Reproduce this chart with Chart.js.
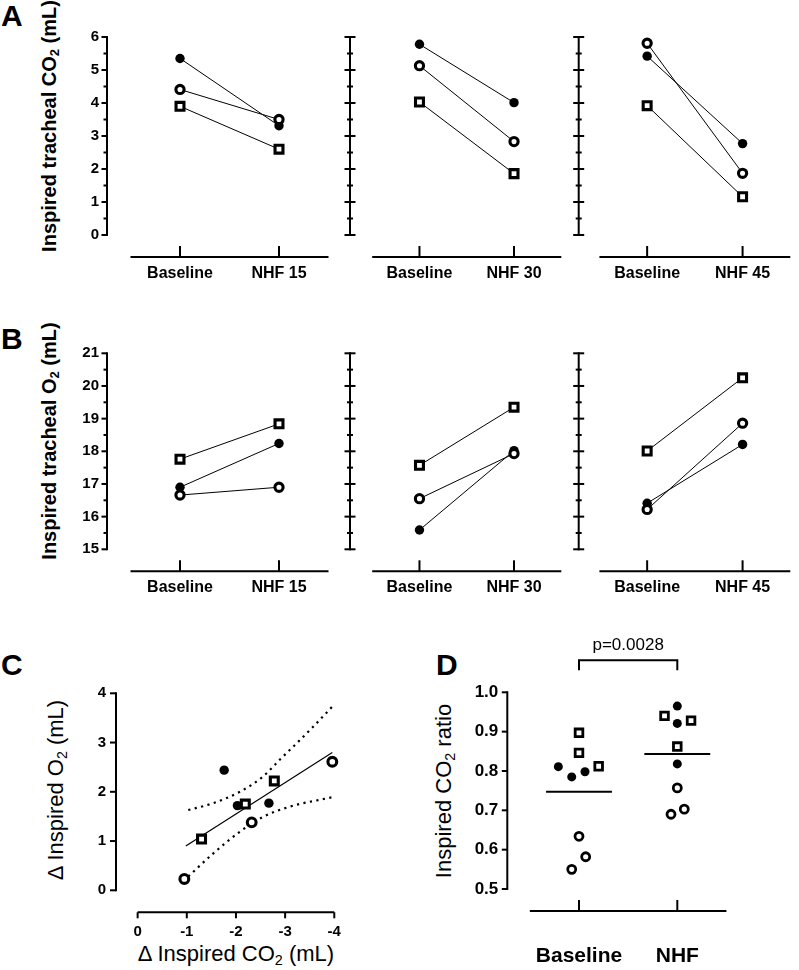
<!DOCTYPE html>
<html>
<head>
<meta charset="utf-8">
<script src="https://cdn.jsdelivr.net/npm/chart.js@4.4.1/dist/chart.umd.min.js"></script>
<style>
  html, body { margin: 0; padding: 0; background: #fff; }
  #wrap { position: relative; width: 799px; height: 970px; overflow: hidden; background: #fff;
          font-family: 'Liberation Sans', Arial, Helvetica, sans-serif; color: #000; }
  #wrap canvas { position: absolute; }
  .letter { position: absolute; font-weight: bold; font-size: 30px; line-height: 30px; }
  .vt { position: absolute; white-space: nowrap; transform: translate(-50%, -50%) rotate(-90deg); }
  .ht { position: absolute; white-space: nowrap; transform: translate(-50%, -50%); }
  sub { font-size: 65%; vertical-align: -0.25em; line-height: 0; }
</style>
</head>
<body>
<div id="wrap">
  <div class="letter" style="left:1px;top:1px;">A</div>
  <div class="letter" style="left:1px;top:324px;">B</div>
  <div class="letter" style="left:1px;top:650px;">C</div>
  <div class="letter" style="left:436px;top:650px;">D</div>
  <div class="vt" style="left:49px;top:126px;font-size:20px;font-weight:bold;">Inspired tracheal CO<sub>2</sub> (mL)</div>
  <div class="vt" style="left:49px;top:441px;font-size:20px;font-weight:bold;">Inspired tracheal O<sub>2</sub> (mL)</div>
  <div class="vt" style="left:56px;top:790px;font-size:22px;">&Delta; Inspired O<sub>2</sub> (mL)</div>
  <div class="ht" style="left:236px;top:954px;font-size:22px;">&Delta; Inspired CO<sub>2</sub> (mL)</div>
  <div class="vt" style="left:444px;top:791px;font-size:22px;">Inspired CO<sub>2</sub> ratio</div>
</div>
<script>
// ---------------- DATA ----------------
// subject order: filled circle, open circle, open square
const subjects = ['Subject 1', 'Subject 2', 'Subject 3'];
const baselineLabel = 'Baseline';
const nhfLevels = ['NHF 15', 'NHF 30', 'NHF 45'];

// Panel A: inspired tracheal CO2 (mL)
const co2Baseline15 = [5.35, 4.41, 3.90];
const co2Nhf15      = [3.31, 3.50, 2.60];
const co2Baseline30 = [5.78, 5.13, 4.03];
const co2Nhf30      = [4.01, 2.83, 1.86];
const co2Baseline45 = [5.42, 5.81, 3.92];
const co2Nhf45      = [2.77, 1.87, 1.16];
const co2Ticks = [0, 1, 2, 3, 4, 5, 6];

// Panel B: inspired tracheal O2 (mL)
const o2Baseline15 = [16.90, 16.66, 17.76];
const o2Nhf15      = [18.24, 16.90, 18.84];
const o2Baseline30 = [15.59, 16.55, 17.57];
const o2Nhf30      = [18.02, 17.93, 19.35];
const o2Baseline45 = [16.41, 16.22, 18.01];
const o2Nhf45      = [18.21, 18.86, 20.25];
const o2Ticks = [15, 16, 17, 18, 19, 20, 21];

// Panel C: delta CO2 vs delta O2 (mL)
const deltaCO2Filled = [-2.03, -1.76, -2.67];
const deltaO2Filled  = [1.72, 2.44, 1.77];
const deltaCO2Open   = [-0.95, -2.32, -3.96];
const deltaO2Open    = [0.23, 1.38, 2.61];
const deltaCO2Square = [-1.30, -2.19, -2.78];
const deltaO2Square  = [1.04, 1.75, 2.22];
const fitX = [-0.98, -3.96];
const fitY = [0.90, 2.80];
const upperBandX = [-1.03, -1.54, -2.08, -2.55, -2.89, -3.23, -3.57, -3.96];
const upperBandY = [1.63, 1.77, 2.00, 2.31, 2.65, 2.98, 3.32, 3.73];
const lowerBandX = [-1.03, -1.54, -2.08, -2.55, -3.10, -3.96];
const lowerBandY = [0.28, 0.75, 1.19, 1.49, 1.70, 1.89];
const deltaO2Ticks = [0, 1, 2, 3, 4];
const deltaCO2Ticks = [0, -1, -2, -3, -4];

// Panel D: inspired CO2 ratio
const ratioCategories = ['Baseline', 'NHF'];
const ratioBaselineFilled = [0.811, 0.785, 0.798];
const ratioBaselineOpen   = [0.634, 0.582, 0.550];
const ratioBaselineSquare = [0.897, 0.846, 0.812];
const ratioNhfFilled = [0.965, 0.921, 0.818];
const ratioNhfOpen   = [0.757, 0.690, 0.703];
const ratioNhfSquare = [0.940, 0.928, 0.862];
const ratioMeans = [0.747, 0.843];
const ratioTicks = [0.5, 0.6, 0.7, 0.8, 0.9, 1.0];
const pValueLabel = 'p=0.0028';
// horizontal scatter offsets (category units) as placed in the dot plot
const jitterBaselineFilled = [-0.21, -0.074, 0.061];
const jitterBaselineOpen   = [0.0, 0.068, -0.074];
const jitterBaselineSquare = [0.0, 0.0, 0.20];
const jitterNhfFilled = [0.0, 0.0, 0.0];
const jitterNhfOpen   = [0.0, -0.064, 0.071];
const jitterNhfSquare = [-0.13, 0.14, 0.0];

// ---------------- STYLE ----------------
const FONT = "'Liberation Sans', Arial, Helvetica, sans-serif";
Chart.defaults.font.family = FONT;
Chart.defaults.color = '#000';

const markerStyles = [
  { pointStyle: 'circle', pointRadius: 4.7, pointBorderWidth: 0, pointBackgroundColor: '#000', pointBorderColor: '#000', order: 1.5 },
  { pointStyle: 'circle', pointRadius: 4.1, pointBorderWidth: 3.1, pointBackgroundColor: '#fff', pointBorderColor: '#000', order: 1.2 },
  { pointStyle: 'rect', pointRadius: 5.6, pointBorderWidth: 3.1, pointBackgroundColor: '#fff', pointBorderColor: '#000', order: 1.1 }
];

function axesPlugin(cfg) {
  return {
    id: 'prismAxes',
    afterDraw(chart) {
      const ctx = chart.ctx, a = chart.chartArea, xs = chart.scales.x, ys = chart.scales.y;
      ctx.save();
      ctx.strokeStyle = '#000';
      ctx.fillStyle = '#000';
      ctx.lineWidth = 2;
      ctx.lineCap = 'butt';
      // y axis line with ticks
      const ax = a.left;
      const yTop = ys.getPixelForValue(cfg.yTicks[cfg.yTicks.length - 1]);
      const yBot = ys.getPixelForValue(cfg.yTicks[0]);
      ctx.beginPath(); ctx.moveTo(ax, yTop - 1); ctx.lineTo(ax, yBot + 1); ctx.stroke();
      const yTick = (v, len) => {
        const p = ys.getPixelForValue(v);
        ctx.beginPath();
        ctx.moveTo(ax - len, p);
        ctx.lineTo(cfg.yCross ? ax + len : ax, p);
        ctx.stroke();
      };
      cfg.yTicks.forEach(v => yTick(v, cfg.yMajor));
      if (cfg.yMinor) {
        for (let i = 0; i < cfg.yTicks.length - 1; i++) yTick((cfg.yTicks[i] + cfg.yTicks[i + 1]) / 2, cfg.yMinor);
      }
      // detached x axis line with ticks
      const ly = a.bottom + cfg.xGap;
      ctx.beginPath();
      ctx.moveTo(xs.getPixelForValue(cfg.xLine[0]), ly);
      ctx.lineTo(xs.getPixelForValue(cfg.xLine[1]), ly);
      ctx.stroke();
      cfg.xTicks.forEach(v => {
        const p = xs.getPixelForValue(v);
        ctx.beginPath(); ctx.moveTo(p, ly); ctx.lineTo(p, ly + cfg.xTickDir * cfg.xTickLen); ctx.stroke();
      });
      // significance bracket
      if (cfg.bracket) {
        const b = cfg.bracket;
        const x0 = xs.getPixelForValue(b.from), x1 = xs.getPixelForValue(b.to);
        const by = a.top - b.rise;
        ctx.beginPath();
        ctx.moveTo(x0, by + b.leg); ctx.lineTo(x0, by); ctx.lineTo(x1, by); ctx.lineTo(x1, by + b.leg);
        ctx.stroke();
        ctx.font = b.font;
        ctx.textAlign = 'center';
        ctx.textBaseline = 'middle';
        ctx.fillText(b.text, (x0 + x1) / 2, by - b.textGap);
      }
      ctx.restore();
    }
  };
}

const wrap = document.getElementById('wrap');

function buildChart(o) {
  const c = document.createElement('canvas');
  c.width = o.box.w; c.height = o.box.h;
  c.style.left = o.box.x + 'px'; c.style.top = o.box.y + 'px';
  c.style.width = o.box.w + 'px'; c.style.height = o.box.h + 'px';
  wrap.appendChild(c);
  const padding = {
    left: o.area.left - o.box.x - o.yW,
    top: o.area.top - o.box.y,
    right: o.box.x + o.box.w - o.area.right,
    bottom: o.box.y + o.box.h - o.area.bottom - o.xH
  };
  return new Chart(c, {
    type: 'scatter',
    data: { datasets: o.datasets },
    options: {
      responsive: false,
      maintainAspectRatio: false,
      animation: false,
      devicePixelRatio: 1,
      events: [],
      layout: { padding },
      plugins: { legend: { display: false }, tooltip: { enabled: false }, title: { display: false } },
      scales: {
        x: {
          type: 'linear', min: o.xMin, max: o.xMax, reverse: !!o.xReverse, position: 'bottom',
          grid: { display: false, drawTicks: false }, border: { display: false },
          afterBuildTicks: s => { s.ticks = o.xTicks.map(v => ({ value: v })); },
          afterFit: s => { s.height = o.xH; s.paddingLeft = 0; s.paddingRight = 0; s.paddingTop = 0; s.paddingBottom = 0; },
          ticks: { autoSkip: false, maxRotation: 0, minRotation: 0, padding: o.xPad, font: o.xFont, color: '#000', callback: o.xLabel }
        },
        y: {
          type: 'linear', min: o.yMin, max: o.yMax, position: 'left',
          grid: { display: false, drawTicks: false }, border: { display: false },
          afterBuildTicks: s => { s.ticks = o.yTicks.map(v => ({ value: v })); },
          afterFit: s => { s.width = o.yW; s.paddingLeft = 0; s.paddingRight = 0; s.paddingTop = 0; s.paddingBottom = 0; },
          ticks: { display: o.yShow, autoSkip: false, padding: o.yPad, font: o.yFont, color: '#000', callback: o.yLabel }
        }
      }
    },
    plugins: [axesPlugin(o.axes)]
  });
}

// ---------------- PANELS A & B ----------------
function pairDatasets(base, nhf) {
  const ds = [];
  subjects.forEach((s, i) => {
    const pts = [{ x: 0, y: base[i] }, { x: 1, y: nhf[i] }];
    ds.push({ label: s + ' line', data: pts, showLine: true, borderColor: '#000', borderWidth: 1, pointRadius: 0, order: 3, clip: false });
    ds.push(Object.assign({ label: s, data: pts, showLine: false, clip: false }, markerStyles[i]));
  });
  return ds;
}

const co2Base = [co2Baseline15, co2Baseline30, co2Baseline45];
const co2Nhf = [co2Nhf15, co2Nhf30, co2Nhf45];
const o2Base = [o2Baseline15, o2Baseline30, o2Baseline45];
const o2Nhf = [o2Nhf15, o2Nhf30, o2Nhf45];

const columns = [
  { bx: 60, bw: 280, axis: 107, p0: 180, p1: 279, first: true },
  { bx: 340, bw: 230, axis: 350, p0: 422, p1: 520, first: false },
  { bx: 570, bw: 229, axis: 578, p0: 649, p1: 748, first: false }
];
const rows = [
  { by: 20, bh: 275, top: 37, bottom: 235, ticks: co2Ticks, base: co2Base, nhf: co2Nhf },
  { by: 330, bh: 275, top: 353.3, bottom: 549.3, ticks: o2Ticks, base: o2Base, nhf: o2Nhf }
];

rows.forEach(r => {
  columns.forEach((col, k) => {
    const unit = col.p1 - col.p0;
    const cats = [baselineLabel, nhfLevels[k]];
    buildChart({
      box: { x: col.bx, y: r.by, w: col.bw, h: r.bh },
      area: { left: col.axis, top: r.top, right: col.p0 + 1.5 * unit, bottom: r.bottom },
      yW: col.first ? 40 : 4, xH: 50,
      xMin: (col.axis - col.p0) / unit, xMax: 1.5,
      xTicks: [0, 1], xLabel: v => cats[v], xFont: { size: 16, weight: 'bold' }, xPad: 28.5,
      yMin: r.ticks[0], yMax: r.ticks[r.ticks.length - 1], yTicks: r.ticks, yShow: col.first,
      yLabel: v => String(v), yFont: { size: 15, weight: 'bold' }, yPad: 8,
      datasets: pairDatasets(r.base[k], r.nhf[k]),
      axes: { yTicks: r.ticks, yMajor: 5.5, yMinor: col.first ? 3.5 : 3, yCross: !col.first,
              xLine: [-0.5, 1.5], xTicks: [0, 1], xTickDir: -1, xTickLen: 11, xGap: 22 }
    });
  });
});

// ---------------- PANEL C ----------------
const toPts = (xs, ys) => xs.map((x, i) => ({ x, y: ys[i] }));
buildChart({
  box: { x: 60, y: 670, w: 300, h: 300 },
  area: { left: 116, top: 693.3, right: 339.2, bottom: 890.3 },
  yW: 40, xH: 62,
  xMin: -4.1, xMax: 0.44, xReverse: true,
  xTicks: deltaCO2Ticks, xLabel: v => String(v), xFont: { size: 15, weight: 'bold' }, xPad: 32.4,
  yMin: 0, yMax: 4, yTicks: deltaO2Ticks, yShow: true,
  yLabel: v => String(v), yFont: { size: 15, weight: 'bold' }, yPad: 10,
  datasets: [
    { label: 'fit', data: toPts(fitX, fitY), showLine: true, borderColor: '#000', borderWidth: 1.2, pointRadius: 0, order: 3, clip: false },
    { label: 'upper 95% band', data: toPts(upperBandX, upperBandY), showLine: true, borderColor: '#000', borderWidth: 2.2,
      borderDash: [2.2, 4.4], cubicInterpolationMode: 'monotone', pointRadius: 0, order: 3, clip: false },
    { label: 'lower 95% band', data: toPts(lowerBandX, lowerBandY), showLine: true, borderColor: '#000', borderWidth: 2.2,
      borderDash: [2.2, 4.4], cubicInterpolationMode: 'monotone', pointRadius: 0, order: 3, clip: false },
    Object.assign({ label: subjects[0], data: toPts(deltaCO2Filled, deltaO2Filled), clip: false }, markerStyles[0]),
    Object.assign({ label: subjects[1], data: toPts(deltaCO2Open, deltaO2Open), clip: false }, markerStyles[1], { pointRadius: 4.4, pointBorderWidth: 3.1 }),
    Object.assign({ label: subjects[2], data: toPts(deltaCO2Square, deltaO2Square), clip: false }, markerStyles[2])
  ],
  axes: { yTicks: deltaO2Ticks, yMajor: 6, yMinor: 0, yCross: false,
          xLine: [0, -4], xTicks: deltaCO2Ticks, xTickDir: 1, xTickLen: 6, xGap: 22 }
});

// ---------------- PANEL D ----------------
const jitterPts = (cat, vals, jit) => vals.map((v, i) => ({ x: cat + jit[i], y: v }));
const dMarkers = [
  Object.assign({}, markerStyles[0], { pointRadius: 4.5 }),
  Object.assign({}, markerStyles[1], { pointRadius: 4.0, pointBorderWidth: 2.8 }),
  Object.assign({}, markerStyles[2], { pointRadius: 5.4, pointBorderWidth: 2.8 })
];
const dUnit = 98.3;
buildChart({
  box: { x: 455, y: 620, w: 300, h: 350 },
  area: { left: 507.3, top: 692.3, right: 579 + 1.5 * dUnit, bottom: 889 },
  yW: 40, xH: 80,
  xMin: (507.3 - 579) / dUnit, xMax: 1.5,
  xTicks: [0, 1], xLabel: v => ratioCategories[v], xFont: { size: 21, weight: 'bold' }, xPad: 55,
  yMin: 0.5, yMax: 1.0, yTicks: ratioTicks, yShow: true,
  yLabel: v => v.toFixed(1), yFont: { size: 17, weight: 'bold' }, yPad: 9,
  datasets: [
    { label: 'Baseline mean', data: [{ x: -0.335, y: ratioMeans[0] }, { x: 0.335, y: ratioMeans[0] }], showLine: true,
      borderColor: '#000', borderWidth: 2, pointRadius: 0, order: 3, clip: false },
    { label: 'NHF mean', data: [{ x: 0.665, y: ratioMeans[1] }, { x: 1.335, y: ratioMeans[1] }], showLine: true,
      borderColor: '#000', borderWidth: 2, pointRadius: 0, order: 3, clip: false },
    Object.assign({ label: 'Baseline ' + subjects[0], data: jitterPts(0, ratioBaselineFilled, jitterBaselineFilled), clip: false }, dMarkers[0]),
    Object.assign({ label: 'Baseline ' + subjects[1], data: jitterPts(0, ratioBaselineOpen, jitterBaselineOpen), clip: false }, dMarkers[1]),
    Object.assign({ label: 'Baseline ' + subjects[2], data: jitterPts(0, ratioBaselineSquare, jitterBaselineSquare), clip: false }, dMarkers[2]),
    Object.assign({ label: 'NHF ' + subjects[0], data: jitterPts(1, ratioNhfFilled, jitterNhfFilled), clip: false }, dMarkers[0]),
    Object.assign({ label: 'NHF ' + subjects[1], data: jitterPts(1, ratioNhfOpen, jitterNhfOpen), clip: false }, dMarkers[1]),
    Object.assign({ label: 'NHF ' + subjects[2], data: jitterPts(1, ratioNhfSquare, jitterNhfSquare), clip: false }, dMarkers[2])
  ],
  axes: { yTicks: ratioTicks, yMajor: 5.5, yMinor: 0, yCross: false,
          xLine: [-0.5, 1.5], xTicks: [0, 1], xTickDir: -1, xTickLen: 11, xGap: 22,
          bracket: { from: 0, to: 1, rise: 32, leg: 10, textGap: 15, text: pValueLabel, font: "17px " + FONT } }
});
</script>
</body>
</html>
